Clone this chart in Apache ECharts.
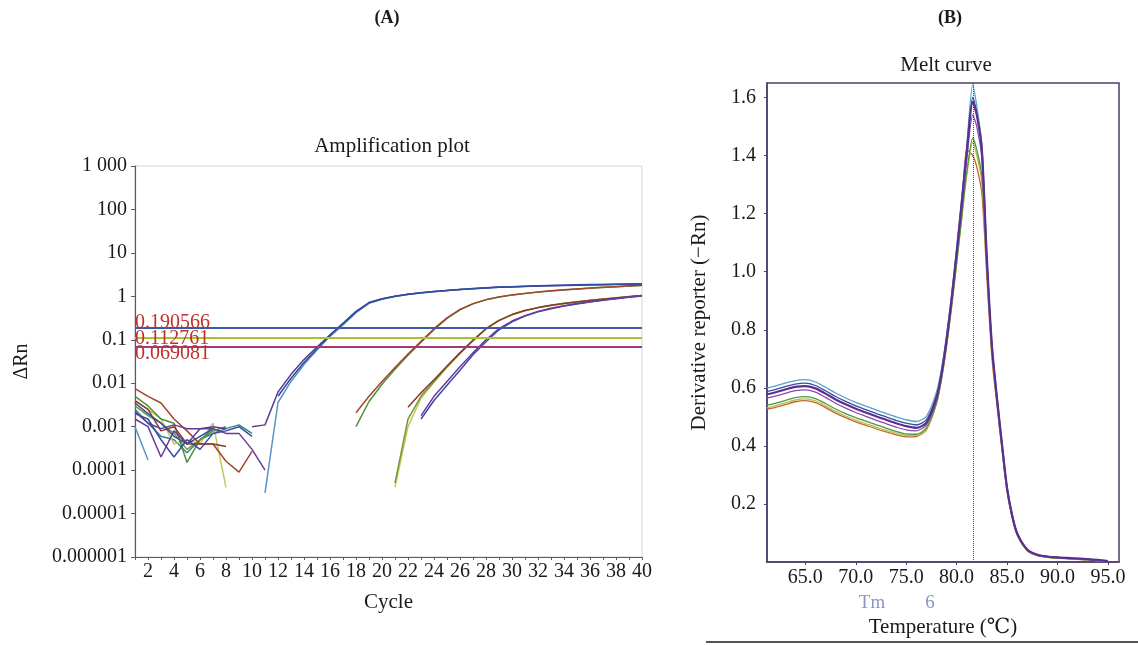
<!DOCTYPE html>
<html>
<head>
<meta charset="utf-8">
<title>Amplification plot / Melt curve</title>
<script src="https://cdn.jsdelivr.net/npm/echarts@6/dist/echarts.min.js"></script>
<style>
  html, body { margin: 0; padding: 0; background: #fff; }
  #main { width: 1138px; height: 645px; }
</style>
</head>
<body>
<div id="main"></div>
<script>
// ===== (A) 扩增曲线数据 =====
var cycles = [1,2,3,4,5,6,7,8,9,10,11,12,13,14,15,16,17,18,19,20,
              21,22,23,24,25,26,27,28,29,30,31,32,33,34,35,36,37,38,39,40];
var ampTickLabels = ['0.000001','0.00001','0.0001','0.001','0.01','0.1','1','10','100','1 000'];
var thresholdValues = [0.190566, 0.112761, 0.069081];

// 第一组 (Ct ~15)
var ampBlue = [0.0035,0.002,0.0012,0.0006,0.0004,0.0006,0.0009,null,null,null,null,
  0.005,0.013,0.03,0.062,0.125,0.235,0.44,0.71,0.87,1.0,1.11,1.21,1.29,1.37,1.44,1.51,1.57,1.63,1.67,1.71,1.75,1.78,1.81,1.84,1.86,1.88,1.9,1.92,1.94];
var ampPurple = [0.0022,0.0012,0.0009,0.0011,0.0009,0.0009,0.001,0.0009,null,0.001,0.0011,
  0.0063,0.016,0.035,0.068,0.13,0.24,0.45,0.72,0.88,1.01,1.12,1.21,1.29,1.37,1.44,1.5,1.56,1.61,1.65,1.69,1.72,1.75,1.78,1.8,1.82,1.84,1.86,1.88,1.9];
var ampLightBlue = [0.001,0.00017,null,null,null,null,null,null,null,null,0.00003,
  0.0036,0.011,0.027,0.058,0.12,0.22,0.42,0.69,0.86,0.99,1.1,1.2,1.28,1.36,1.43,1.5,1.56,1.62,1.66,1.7,1.74,1.77,1.8,1.83,1.85,1.87,1.89,1.91,1.93];
// 第二组 (Ct ~22)
var ampBrown2 = [0.0075,0.005,0.0035,0.0015,0.0008,0.0004,0.0004,0.00016,0.00009,0.00027,
  null,null,null,null,null,null,null,
  0.0021,0.005,0.011,0.023,0.047,0.092,0.18,0.32,0.5,0.68,0.84,0.97,1.08,1.17,1.26,1.34,1.41,1.48,1.55,1.61,1.67,1.73,1.79];
var ampGreen2 = [0.005,0.003,0.0015,0.0012,0.00015,0.0005,0.0008,0.001,
  null,null,null,null,null,null,null,null,null,
  0.001,0.0038,0.0095,0.021,0.044,0.088,0.17,0.31,0.49,0.67,0.83,0.96,1.07,1.16,1.25,1.33,1.4,1.47,1.54,1.6,1.66,1.72,1.78];
// 第三组 (Ct ~27)
var ampBrown3 = [0.004,0.0025,0.0008,0.001,0.0004,0.0004,0.0004,0.00035,
  null,null,null,null,null,null,null,null,null,null,null,null,null,
  0.0028,0.006,0.012,0.025,0.05,0.095,0.18,0.28,0.38,0.47,0.55,0.62,0.68,0.74,0.8,0.86,0.92,0.98,1.04];
var ampOlive3 = [0.003,0.0018,0.0012,0.0007,0.0003,0.0005,0.0009,
  null,null,null,null,null,null,null,null,null,null,null,null,null,
  0.00005,0.0015,0.005,0.011,0.024,0.05,0.1,0.18,0.28,0.38,0.47,0.55,0.62,0.69,0.75,0.81,0.87,0.93,0.99,1.05];
var ampYellow3 = [0.004,0.0025,0.0015,0.0004,0.0005,0.0004,0.0012,0.00004,
  null,null,null,null,null,null,null,null,null,null,null,null,
  0.00004,0.001,0.0045,0.0105,0.023,0.048,0.097,0.175,0.275,0.375,0.465,0.545,0.615,0.68,0.74,0.8,0.86,0.92,0.98,1.04];
var ampBlue3 = [0.002,0.0015,0.0005,0.0002,0.0005,0.0003,0.0007,0.0008,0.001,0.0006,
  null,null,null,null,null,null,null,null,null,null,null,null,
  0.0015,0.004,0.009,0.02,0.045,0.09,0.17,0.26,0.35,0.44,0.52,0.6,0.67,0.74,0.81,0.88,0.95,1.02];
var ampPurple3 = [0.0015,0.001,0.0002,0.0008,0.0004,0.0009,0.0009,0.0007,0.0007,0.0003,0.0001,
  null,null,null,null,null,null,null,null,null,null,null,
  0.0018,0.005,0.011,0.024,0.05,0.1,0.18,0.27,0.36,0.45,0.53,0.61,0.68,0.75,0.82,0.89,0.96,1.03];
// 只有本底噪声的孔
var ampTeal = [0.0025,0.0012,0.0006,0.0005,0.00025,0.0005,0.0007,0.0009,0.0011,0.0007];

// ===== (B) 熔解曲线数据 =====
var meltTemp = [61.2,62,63,64,65,66,67,68,69,70,71,72,73,74,75,76,77,78,78.5,79,79.5,80,80.5,81,81.6,
  82,82.5,83,83.5,84,84.5,85,85.5,86,87,88,89,90,91,92,93,94,95];
var meltTicksX = [65,70,75,80,85,90,95];
var meltTicksY = [0.2,0.4,0.6,0.8,1.0,1.2,1.4,1.6];
var tmValue = 81.6;

var meltLightBlue = [0.600,0.606,0.616,0.625,0.628,0.620,0.602,0.582,0.565,0.550,0.537,0.524,0.512,0.500,0.490,0.484,0.502,0.585,0.665,0.780,0.920,1.080,1.250,1.430,1.645,
  1.570,1.440,1.040,0.740,0.560,0.400,0.250,0.160,0.098,0.042,0.024,0.018,0.015,0.013,0.011,0.009,0.006,0.002];
var meltBlue = [0.588,0.594,0.604,0.613,0.616,0.608,0.590,0.570,0.553,0.538,0.525,0.512,0.500,0.488,0.478,0.472,0.490,0.574,0.655,0.770,0.910,1.070,1.240,1.415,1.600,
  1.550,1.430,1.050,0.750,0.570,0.410,0.258,0.165,0.100,0.043,0.025,0.019,0.016,0.014,0.012,0.010,0.007,0.003];
var meltPurple = [0.578,0.584,0.594,0.603,0.606,0.598,0.580,0.560,0.543,0.528,0.515,0.502,0.490,0.478,0.468,0.462,0.480,0.565,0.648,0.765,0.905,1.065,1.235,1.410,1.585,
  1.540,1.420,1.045,0.745,0.565,0.405,0.255,0.162,0.099,0.043,0.025,0.019,0.016,0.014,0.012,0.010,0.007,0.003];
var meltViolet = [0.565,0.571,0.581,0.590,0.593,0.585,0.567,0.547,0.530,0.515,0.502,0.489,0.477,0.465,0.455,0.452,0.472,0.556,0.640,0.755,0.895,1.050,1.215,1.385,1.540,
  1.500,1.390,1.030,0.735,0.558,0.400,0.252,0.160,0.098,0.042,0.024,0.018,0.015,0.013,0.011,0.009,0.006,0.002];
var meltGreen = [0.540,0.546,0.556,0.566,0.570,0.563,0.546,0.527,0.511,0.497,0.485,0.473,0.461,0.450,0.441,0.440,0.462,0.548,0.632,0.745,0.880,1.030,1.185,1.340,1.460,
  1.420,1.330,1.010,0.725,0.552,0.396,0.250,0.158,0.096,0.041,0.023,0.017,0.014,0.012,0.010,0.008,0.005,0.002];
var meltYellow = [0.532,0.538,0.548,0.558,0.562,0.555,0.538,0.519,0.503,0.489,0.477,0.465,0.454,0.444,0.436,0.436,0.458,0.545,0.628,0.740,0.875,1.025,1.180,1.330,1.445,
  1.400,1.310,1.000,0.718,0.548,0.392,0.247,0.156,0.095,0.040,0.023,0.017,0.014,0.012,0.010,0.008,0.005,0.002];
var meltOrange = [0.527,0.532,0.542,0.552,0.556,0.549,0.532,0.513,0.497,0.483,0.471,0.459,0.448,0.438,0.431,0.432,0.455,0.545,0.630,0.745,0.885,1.040,1.200,1.420,1.400,
  1.360,1.270,0.980,0.705,0.540,0.386,0.243,0.153,0.093,0.039,0.022,0.016,0.013,0.011,0.009,0.007,0.004,0.001];

var serif = '"Liberation Serif", "DejaVu Serif", serif';

window.onload = function () {
    var myChart = echarts.init(document.getElementById('main'));

    // 扩增曲线 series
    var ampList = [
        [ampTeal, '#2a8a8a'],
        [ampYellow3, '#c9c55a'],
        [ampOlive3, '#6f9a35'],
        [ampGreen2, '#4f8f3a'],
        [ampBrown3, '#8a3a2a'],
        [ampBrown2, '#a3452c'],
        [ampBlue3, '#3a4aa8'],
        [ampPurple3, '#6a3a9a'],
        [ampLightBlue, '#5b93c4'],
        [ampPurple, '#5e3a98'],
        [ampBlue, '#2f4f9f']
    ];
    var series = [];
    ampList.forEach(function (item) {
        series.push({
            type: 'line', xAxisIndex: 0, yAxisIndex: 0,
            data: item[0], showSymbol: false, connectNulls: false,
            lineStyle: { color: item[1], width: 1.5 }, silent: true
        });
    });
    // 阈值线
    var thColors = ['#3a5aa8', '#a8c234', '#a03a7a'];
    var thDist = [-5, -11, -17];
    series[0].markLine = {
        symbol: 'none', silent: true, animation: false,
        data: thresholdValues.map(function (v, i) {
            return {
                yAxis: v,
                lineStyle: { color: thColors[i], width: 2, type: 'solid' },
                label: {
                    show: true, position: 'insideStartTop', distance: [0, thDist[i]],
                    formatter: String(v), color: '#c0302a', fontFamily: serif, fontSize: 20,
                    padding: 0
                }
            };
        })
    };

    // 熔解曲线 series
    var meltList = [
        [meltOrange, '#c8642c', 1.3],
        [meltYellow, '#b9c04a', 1.3],
        [meltGreen, '#4a9a4a', 1.3],
        [meltViolet, '#8a4aa8', 1.3],
        [meltBlue, '#3a4aa0', 1.3],
        [meltLightBlue, '#5aa0c8', 1.3],
        [meltPurple, '#5b2f8f', 2.2]
    ];
    meltList.forEach(function (item) {
        series.push({
            type: 'line', xAxisIndex: 1, yAxisIndex: 1,
            data: meltTemp.map(function (t, i) { return [t, item[0][i]]; }),
            showSymbol: false, smooth: 0.25, silent: true,
            lineStyle: { color: item[1], width: item[2] }
        });
    });
    series[series.length - 1].markLine = {
        symbol: 'none', silent: true, animation: false,
        label: { show: false },
        lineStyle: { color: '#3a4a80', width: 1, type: 'dotted' },
        data: [{ xAxis: tmValue }]
    };

    var axisText = { fontFamily: serif, fontSize: 20, color: '#1a1a1a' };
    var nameText = { fontFamily: serif, fontSize: 21, color: '#1a1a1a' };
    var option = {
        animation: false,
        grid: [
            { left: 135, right: 496, top: 166, bottom: 88, show: true, borderColor: '#d4d4d4', borderWidth: 1 },
            { left: 767, right: 19, top: 83, bottom: 83, show: true, borderColor: '#4d3d6d', borderWidth: 1.5 }
        ],
        xAxis: [
            {
                type: 'category', gridIndex: 0, data: cycles, boundaryGap: false,
                axisLine: { lineStyle: { color: '#6a4f7a', width: 1.2 } },
                axisTick: { show: true, length: 3, interval: 0, lineStyle: { color: '#6a4f7a' } },
                axisLabel: Object.assign({ margin: 5, interval: function (i) { return i % 2 === 1; } }, axisText),
                splitLine: { show: false },
                name: 'Cycle', nameLocation: 'middle', nameGap: 35, nameTextStyle: nameText
            },
            {
                type: 'value', gridIndex: 1, min: 61.2, max: 96.1,
                axisLine: { lineStyle: { color: '#4d3d6d', width: 1.5 } },
                axisTick: { show: true, length: 3, customValues: meltTicksX },
                axisLabel: Object.assign({
                    margin: 6, customValues: meltTicksX,
                    formatter: function (v) { return v.toFixed(1); }
                }, axisText),
                splitLine: { show: false },
                name: 'Temperature (℃)', nameLocation: 'middle', nameGap: 55, nameTextStyle: nameText
            }
        ],
        yAxis: [
            {
                type: 'log', logBase: 10, gridIndex: 0, min: 0.000001, max: 1000, splitNumber: 9,
                axisLine: { show: true, lineStyle: { color: '#6a4f7a', width: 1.2 } },
                axisTick: { show: true, length: 4, lineStyle: { color: '#6a4f7a' } },
                axisLabel: Object.assign({
                    margin: 8,
                    formatter: function (v) { return ampTickLabels[Math.round(Math.log10(v)) + 6]; }
                }, axisText),
                splitLine: { show: false },
                name: 'ΔRn', nameLocation: 'middle', nameGap: 103, nameRotate: 90,
                nameTextStyle: { fontFamily: serif, fontSize: 20, color: '#1a1a1a' }
            },
            {
                type: 'value', gridIndex: 1, min: 0, max: 1.65,
                axisLine: { show: true, lineStyle: { color: '#4d3d6d', width: 1.5 } },
                axisTick: { show: true, length: 3, customValues: meltTicksY },
                axisLabel: Object.assign({
                    margin: 11, customValues: meltTicksY,
                    formatter: function (v) { return v.toFixed(1); }
                }, axisText),
                splitLine: { show: false },
                name: 'Derivative reporter (−Rn)', nameLocation: 'middle', nameGap: 57, nameRotate: 90,
                nameTextStyle: nameText
            }
        ],
        graphic: [
            { type: 'text', x: 387, y: 18, style: { text: '(A)', font: 'bold 18px ' + serif, fill: '#1a1a1a', textAlign: 'center', textVerticalAlign: 'middle' } },
            { type: 'text', x: 950, y: 18, style: { text: '(B)', font: 'bold 18px ' + serif, fill: '#1a1a1a', textAlign: 'center', textVerticalAlign: 'middle' } },
            { type: 'text', x: 392, y: 146, style: { text: 'Amplification plot', font: '21px ' + serif, fill: '#1a1a1a', textAlign: 'center', textVerticalAlign: 'middle' } },
            { type: 'text', x: 946, y: 65, style: { text: 'Melt curve', font: '21px ' + serif, fill: '#1a1a1a', textAlign: 'center', textVerticalAlign: 'middle' } },
            { type: 'text', x: 872, y: 603, style: { text: 'Tm', font: '19px ' + serif, fill: '#8a96c4', textAlign: 'center', textVerticalAlign: 'middle' } },
            { type: 'text', x: 930, y: 603, style: { text: '6', font: '19px ' + serif, fill: '#8a96c4', textAlign: 'center', textVerticalAlign: 'middle' } },
            { type: 'line', shape: { x1: 706, y1: 642, x2: 1138, y2: 642 }, style: { stroke: '#555', lineWidth: 2 } }
        ],
        series: series
    };
    myChart.setOption(option);
};
</script>
</body>
</html>
